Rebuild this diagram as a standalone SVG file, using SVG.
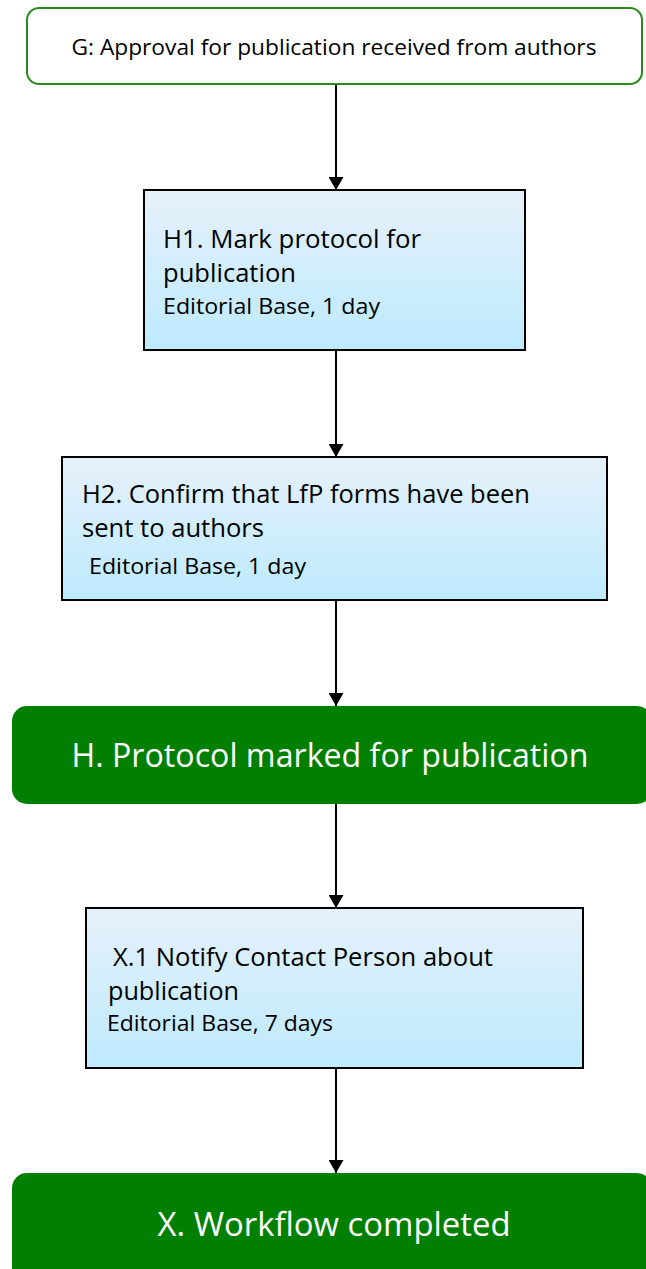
<svg xmlns="http://www.w3.org/2000/svg" width="646" height="1269" viewBox="0 0 646 1269">
<defs>
<linearGradient id="blue" x1="0" y1="0" x2="0" y2="1">
<stop offset="0" stop-color="#e6f1fa"/>
<stop offset="1" stop-color="#bdeafd"/>
</linearGradient>
<marker id="arr" viewBox="0 0 13 15" refX="13" refY="7.5" markerWidth="13" markerHeight="15" markerUnits="userSpaceOnUse" orient="auto">
<path d="M0,0 L13,7.5 L0,15 Z" fill="#000"/>
</marker>
<style>
.t{font-family:"Open Sans","Liberation Sans",sans-serif;fill:#000}
.m{font-size:26px}
.s{font-size:21px}
.w{font-family:"Open Sans","Liberation Sans",sans-serif;fill:#fff;font-size:33px}
.task{fill:url(#blue);stroke:#000;stroke-width:2}
.term{fill:#007f00}
.c{stroke:#000;stroke-width:2;fill:none;marker-end:url(#arr)}
</style>
</defs>
<g id="connectors">
<line class="c" x1="336" y1="84" x2="336" y2="190"/>
<line class="c" x1="336" y1="350" x2="336" y2="457"/>
<line class="c" x1="336" y1="600" x2="336" y2="706"/>
<line class="c" x1="336" y1="804" x2="336" y2="908"/>
<line class="c" x1="336" y1="1068" x2="336" y2="1173"/>
</g>
<g id="G">
<rect x="27" y="8" width="615" height="76" rx="12" fill="#fff" stroke="#2a8a1e" stroke-width="2"/>
<text class="t" x="334" y="55" font-size="21" text-anchor="middle" textLength="525" lengthAdjust="spacingAndGlyphs">G: Approval for publication received from authors</text>
</g>
<g id="H1">
<rect class="task" x="144" y="190" width="381" height="160"/>
<text class="t m" x="163" y="248" textLength="258" lengthAdjust="spacingAndGlyphs">H1. Mark protocol for</text>
<text class="t m" x="163" y="282" textLength="133" lengthAdjust="spacingAndGlyphs">publication</text>
<text class="t s" x="163" y="314" textLength="217" lengthAdjust="spacingAndGlyphs">Editorial Base, 1 day</text>
</g>
<g id="H2">
<rect class="task" x="62" y="457" width="545" height="143"/>
<text class="t m" x="82" y="503" textLength="448" lengthAdjust="spacingAndGlyphs">H2. Confirm that LfP forms have been</text>
<text class="t m" x="82" y="537" textLength="182" lengthAdjust="spacingAndGlyphs">sent to authors</text>
<text class="t s" x="89" y="574" textLength="217" lengthAdjust="spacingAndGlyphs">Editorial Base, 1 day</text>
</g>
<g id="H">
<rect class="term" x="12" y="706" width="640" height="98" rx="15"/>
<text class="w" x="330" y="767" text-anchor="middle" textLength="517" lengthAdjust="spacingAndGlyphs">H. Protocol marked for publication</text>
</g>
<g id="X1">
<rect class="task" x="86" y="908" width="497" height="160"/>
<text class="t m" x="113" y="966" textLength="380" lengthAdjust="spacingAndGlyphs">X.1 Notify Contact Person about</text>
<text class="t m" x="108" y="1000" textLength="131" lengthAdjust="spacingAndGlyphs">publication</text>
<text class="t s" x="107" y="1031" textLength="226" lengthAdjust="spacingAndGlyphs">Editorial Base, 7 days</text>
</g>
<g id="X">
<rect class="term" x="12" y="1173" width="640" height="110" rx="15"/>
<text class="w" x="334" y="1236" text-anchor="middle" textLength="353" lengthAdjust="spacingAndGlyphs">X. Workflow completed</text>
</g>
</svg>
